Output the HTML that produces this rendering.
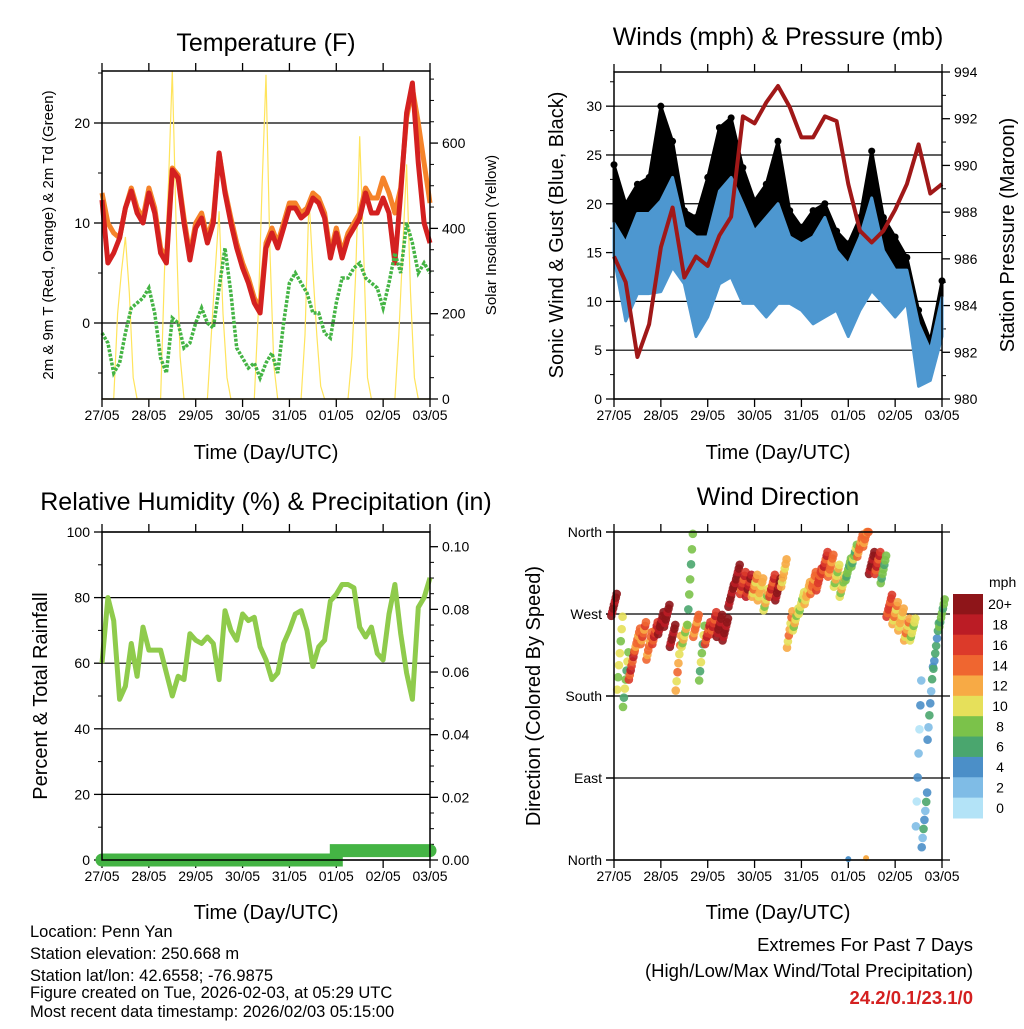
<!DOCTYPE html>
<html><head><meta charset="utf-8"><style>
html,body{margin:0;padding:0;background:#fff;}
svg text{font-family:"Liberation Sans",Arial,sans-serif;fill:#000;}
</style></head><body>
<svg id="chart" width="1024" height="1024" viewBox="0 0 1024 1024" xmlns="http://www.w3.org/2000/svg">
<rect width="1024" height="1024" fill="#fff"/>
<text x="266" y="51" font-size="25" text-anchor="middle">Temperature (F)</text>
<text x="778" y="45" font-size="25" text-anchor="middle">Winds (mph) &amp; Pressure (mb)</text>
<text x="266" y="510" font-size="25" text-anchor="middle">Relative Humidity (%) &amp; Precipitation (in)</text>
<text x="778" y="505" font-size="25" text-anchor="middle">Wind Direction</text>
<text x="266" y="459" font-size="20" text-anchor="middle">Time (Day/UTC)</text>
<text x="778" y="459" font-size="20" text-anchor="middle">Time (Day/UTC)</text>
<text x="266" y="919" font-size="20" text-anchor="middle">Time (Day/UTC)</text>
<text x="778" y="919" font-size="20" text-anchor="middle">Time (Day/UTC)</text>
<text transform="translate(53,235) rotate(-90)" font-size="15" text-anchor="middle">2m &amp; 9m T (Red, Orange) &amp; 2m Td (Green)</text>
<text transform="translate(496,235) rotate(-90)" font-size="15" text-anchor="middle">Solar Insolation (Yellow)</text>
<text transform="translate(563,235) rotate(-90)" font-size="20" text-anchor="middle">Sonic Wind &amp; Gust (Blue, Black)</text>
<text transform="translate(1014,235) rotate(-90)" font-size="20" text-anchor="middle">Station Pressure (Maroon)</text>
<text transform="translate(47,696) rotate(-90)" font-size="20" text-anchor="middle">Percent &amp; Total Rainfall</text>
<text transform="translate(540,696) rotate(-90)" font-size="20" text-anchor="middle">Direction (Colored By Speed)</text>
<g font-size="16.5">
<text x="30" y="937">Location: Penn Yan</text>
<text x="30" y="959">Station elevation: 250.668 m</text>
<text x="30" y="981">Station lat/lon: 42.6558; -76.9875</text>
<text x="30" y="998">Figure created on Tue, 2026-02-03, at 05:29 UTC</text>
<text x="30" y="1017">Most recent data timestamp: 2026/02/03 05:15:00</text>
</g>
<g font-size="18.5" text-anchor="end">
<text x="973" y="951">Extremes For Past 7 Days</text>
<text x="973" y="977">(High/Low/Max Wind/Total Precipitation)</text>
<text x="973" y="1004" font-weight="bold" style="fill:#d42020">24.2/0.1/23.1/0</text>
</g>
</svg>
<script>
// ---- data ----
const dayLabels = ["27/05","28/05","29/05","30/05","31/05","01/05","02/05","03/05"];
const tempRed = [12.3,6,7,8.5,11.5,13.2,11,10,13,11,7,6,15.3,14.5,10,6.3,9.5,10.5,8,10,17,13,10,7.5,5.5,4,2,1,7.5,9,7.5,9.5,11.5,11.5,10.5,11,12.5,12,10.5,6.5,9,6.5,8.5,9.5,10.5,13,11,11,12.5,11,6,13,21,24,16,10,8];
const tempOrange = [13,10,9,8.5,11.5,13.5,11.5,10.5,13.5,11.5,7.5,6.5,15.5,14.8,10.5,6.8,10,11,8.5,10.5,17,13.3,10.5,8,6,4.5,2.5,1.5,8,9.5,8,10,12,12,11,11.5,13,12.5,11,7,9.5,7,9,10,11,13.5,12.5,12.5,14.5,13,11,13.5,20.5,23.5,20,16,12];
const tempTd = [-1,-2,-5,-4,-1,1.5,2,2.5,3.5,1,-3.5,-5,0.5,0,-2.5,-2,0,1.5,0,-0.5,3.5,7.5,3,-2.5,-3.5,-4.5,-4,-5.5,-4,-3,-5,0,4,5,4,3,1,1,-1,-1.5,2,4.5,4.5,5.5,6,4.5,4,3.5,1.5,4,7,5,10,8,5,6,5];
const solar = [0,0,0,0,200,300,380,250,50,0,0,0, 0,0,0,0,300,500,770,400,100,0,0,0, 0,0,0,0,150,300,440,200,50,0,0,0, 0,0,0,0,200,500,760,350,80,0,0,0, 0,0,0,0,150,470,300,150,30,0,0,0, 0,0,0,0,100,300,616,350,50,0,0,0, 0,0,0,0,150,350,550,250,50,0,0,0, 0];
const windLo = [14.5,8,10.8,10.8,11,13.5,11.8,6.4,8.4,11.8,12.5,9.8,9.8,8.4,9.8,9.8,9.1,7.7,8.4,9.1,6.4,9.1,11.1,9.8,8.4,9.8,1.3,1.9,6.4];
const windHi = [18,16,19,19,20.3,22.7,17.6,16.6,16.6,21.3,22.7,20,17.2,18.6,20,16.6,15.9,16.6,18.6,15.2,13.8,16.6,20.6,15.2,13.2,13.2,7.7,5,10.4];
const gust = [24,20,22,22.7,30,26.4,19.3,18.6,22.7,27.8,28.8,23.7,20.3,22,26.4,19.3,17.6,19.3,20,17.2,15.9,18.6,25.4,18.6,16.6,14.5,9.1,6,12.1];
const pressure = [986.1,985,981.8,983.2,986.5,988.2,985.2,986.1,985.7,987,987.8,992.1,991.8,992.7,993.4,992.5,991.2,991.2,992.1,991.9,989.2,987.2,986.7,987.2,988.1,989.2,990.9,988.8,989.2];
const rh = [60,80,73,49,53,66,56,71,64,64,64,57,50,56,55,69,67,66,68,66,55,76,70,67,75,73,74,65,61,55,57,66,70,75,76,70,59,65,67,79,81,84,84,83,71,68,71,63,61,75,84,69,57,49,77,80,86];
const precipT = [0,5.0,5.0,7];
const precipV = [0,0,0.003,0.003];
const dirVals = [280,227,198,213,242,249,235,249,260,268,246,216,246,308,257,227,249,260,257,253,290,312,304,301,301,297,286,301,297,315,253,264,282,293,304,308,326,323,312,301,319,334,345,356,326,326,319,279,271,264,253,253,117,44,172,235,271];
const dirSpeed = [21,10,9,17,14,15,14,17,21,21,21,13,11,8,14,9,17,17,21,21,21,21,17,19,13,12,11,17,21,12,13,11,10,12,14,16,17,14,11,11,8,9,14,14,21,17,8,16,13,12,13,10,3,5,5,6,8];
const dirSpread = [12,40,30,15,12,12,15,12,12,12, 12,30,12,50,12,30,12,12,12,12, 12,12,12,12,12,12,12,12,12,15, 20,12,12,12,12,12,12,12,12,12, 12,12,12,12,12,12,15,12,12,12, 12,12,80,30,40,25,15];
const outlierT = [5.0,5.38];
const outlierDir = [1,2];
const outlierSpeed = [5,13];
const speedLabels = ["20+","18","16","14","12","10","8","6","4","2","0"];
const speedColors = ["#8e1519","#bb1c25","#dc3a2a","#ef6630","#f7aa45","#e6e05a","#7bc24a","#4aa66e","#4b8fc8","#7fbce6","#b3e3f7"];

const NS="http://www.w3.org/2000/svg";
const svg=document.getElementById('chart');
function mk(tag,attrs,parent){const e=document.createElementNS(NS,tag);for(const k in attrs)e.setAttribute(k,attrs[k]);(parent||svg).appendChild(e);return e;}
function txt(s,attrs,parent){const e=mk('text',attrs,parent);e.textContent=s;return e;}
function scale(d0,d1,r0,r1){return v=>r0+(v-d0)/(d1-d0)*(r1-r0);}

function frame(name,x0,x1,y0,y1,xlabelY){
  const g=mk('g',{});
  
  
  const X=scale(0,7,x0,x1);
  for(let i=0;i<8;i++){
    const x=X(i);
    mk('line',{x1:x,y1:y1,x2:x,y2:y1+8,stroke:'#000','stroke-width':1.3},g);
    mk('line',{x1:x,y1:y0,x2:x,y2:y0-8,stroke:'#000','stroke-width':1.3},g);
    const t=txt(dayLabels[i],{x:x,y:xlabelY,'font-size':14,'text-anchor':'middle'},g);
    
    
  }
  return {g,X};
}
function box(x0,x1,y0,y1){const r=mk('rect',{x:x0,y:y0,width:x1-x0,height:y1-y0,fill:'none',stroke:'#000','stroke-width':1.5});}
function yAxis(g,vals,Y,x,side,labelFn,grid,gx0,gx1,len){
  vals.forEach(v=>{const y=Y(v);
    mk('line',{x1:x,y1:y,x2:x+(side<0?-len:len),y2:y,stroke:'#000','stroke-width':1.3},g);
    if(grid) mk('line',{x1:gx0,y1:y,x2:gx1,y2:y,stroke:'#000','stroke-width':1.2},g);
    if(labelFn){const t=txt(labelFn(v),{x:x+(side<0?-12:12),y:y+5,'font-size':14,'text-anchor':side<0?'end':'start'},g);
      }
  });
}
function minor(g,vals,Y,x,side){vals.forEach(v=>{const y=Y(v);mk('line',{x1:x,y1:y,x2:x+(side<0?-4:4),y2:y,stroke:'#000','stroke-width':1},g);});}
function pathOf(ts,vs,X,Y){return ts.map((t,i)=>(i?'L':'M')+X(t).toFixed(1)+','+Y(vs[i]).toFixed(1)).join('');}
const t8=tempRed.map((_,i)=>i*0.125);

// ---- Panel 1: temperature ----
(function(){
  const x0=102,x1=430,y0=71,y1=399;
  const {g,X}=frame('temperature',x0,x1,y0,y1,420);
  const Y=scale(-7.6,25.2,y1,y0), Ys=scale(0,769,y1,y0);
  yAxis(g,[0,10,20],Y,x0,-1,v=>String(v),true,x0,x1,8);
  minor(g,[-5,5,15,25],Y,x0,-1);
  yAxis(g,[0,200,400,600],Ys,x1,1,v=>String(v),false,0,0,8);
  minor(g,[50,100,150,250,300,350,450,500,550,650,700,750],Ys,x1,1);
  const ts=solar.map((_,i)=>i/12);
  const s=mk('path',{d:pathOf(ts,solar,X,Ys),fill:'none',stroke:'#ffe45c','stroke-width':1.2});
  
  const o=mk('path',{d:pathOf(t8,tempOrange,X,Y),fill:'none',stroke:'#f5832a','stroke-width':5,'stroke-linejoin':'round'});
  
  const r=mk('path',{d:pathOf(t8,tempRed,X,Y),fill:'none',stroke:'#d42020','stroke-width':5,'stroke-linejoin':'round'});
  
  const d=mk('path',{d:pathOf(t8,tempTd,X,Y),fill:'none',stroke:'#44b444','stroke-width':3.5,'stroke-dasharray':'3 1.5'});
  
  box(x0,x1,y0,y1);
})();

// ---- Panel 2: winds & pressure ----
(function(){
  const x0=614,x1=942,y0=72,y1=399;
  const {g,X}=frame('winds',x0,x1,y0,y1,420);
  const Y=scale(0,33.5,y1,y0), Yp=scale(980,994,y1,y0);
  yAxis(g,[0,5,10,15,20,25,30],Y,x0,-1,v=>String(v),true,x0,x1,8);
  minor(g,[2.5,7.5,12.5,17.5,22.5,27.5,32.5],Y,x0,-1);
  yAxis(g,[980,982,984,986,988,990,992,994],Yp,x1,1,v=>String(v),false,0,0,8);
  minor(g,[981,983,985,987,989,991,993],Yp,x1,1);
  const tw=windLo.map((_,i)=>i*0.25);
  const gd=tw.map((t,i)=>'L'+X(t)+','+Y(gust[i])).join('').replace(/^L/,'M')+tw.slice().reverse().map((t,j)=>{const i=tw.length-1-j;return 'L'+X(t)+','+Y(windHi[i]-2);}).join('')+'Z';
  const ga=mk('path',{d:gd,fill:'#000',stroke:'#000','stroke-width':3,'stroke-linejoin':'round'});
  
  tw.forEach((t,i)=>{const c=mk('circle',{cx:X(t),cy:Y(gust[i]),r:3.5,fill:'#000'});
    });
  const bd=tw.map((t,i)=>'L'+X(t)+','+Y(windHi[i])).join('').replace(/^L/,'M')+tw.slice().reverse().map((t,j)=>{const i=tw.length-1-j;return 'L'+X(t)+','+Y(windLo[i]);}).join('')+'Z';
  const ba=mk('path',{d:bd,fill:'#4d97d0',stroke:'#4d97d0','stroke-width':3,'stroke-linejoin':'round'});
  
  const p=mk('path',{d:pathOf(tw,pressure,X,Yp),fill:'none',stroke:'#a01818','stroke-width':4,'stroke-linejoin':'round'});
  
  box(x0,x1,y0,y1);
})();

// ---- Panel 3: RH & precip ----
(function(){
  const x0=102,x1=430,y0=532,y1=860;
  const {g,X}=frame('humidity',x0,x1,y0,y1,881);
  const Y=scale(0,100,y1,y0), Yr=scale(0,0.1,y1,546.7);
  yAxis(g,[0,20,40,60,80,100],Y,x0,-1,v=>String(v),true,x0,x1,8);
  minor(g,[10,30,50,70,90],Y,x0,-1);
  yAxis(g,[0,0.02,0.04,0.06,0.08,0.1],Yr,x1,1,v=>v.toFixed(2),false,0,0,8);
  minor(g,[0.005,0.01,0.015,0.025,0.03,0.035,0.045,0.05,0.055,0.065,0.07,0.075,0.085,0.09,0.095],Yr,x1,1);
  const l=mk('path',{d:pathOf(t8,rh,X,Y),fill:'none',stroke:'#8fcb4c','stroke-width':5,'stroke-linejoin':'round'});
  
  const pr=mk('path',{d:pathOf(precipT,precipV,X,Yr),fill:'none',stroke:'#44b444','stroke-width':13,'stroke-linecap':'round'});
  
  box(x0,x1,y0,y1);
})();

// ---- Panel 4: wind direction ----
(function(){
  const x0=614,x1=942,y0=532,y1=860;
  const {g,X}=frame('wind-direction',x0,x1,y0,y1,881);
  const Y=scale(0,360,y1,y0);
  const names=['North','East','South','West','North'];
  yAxis(g,[0,90,180,270,360],Y,x0,-1,v=>names[v/90],true,606,950,8);
  function col(s){const k=Math.max(0,Math.min(10,Math.floor(s/2)));return speedColors[10-k];}
  const fr=[-1,-0.66,-0.33,0,0.33,0.66,1];
  dirVals.forEach((d,i)=>{
    const t=i*0.125, sp=dirSpread[i];
    fr.forEach((f,j)=>{
      const c=mk('circle',{cx:X(t)+(j-3)*0.9,cy:Y(Math.max(0,Math.min(360,d+f*sp))),r:4.3,fill:col(dirSpeed[i]+(j%3===1?-2:(j%3===2?1:0))),'fill-opacity':0.9});
      
      
    });
  });
  outlierT.forEach((t,i)=>{const c=mk('circle',{cx:X(t),cy:Y(outlierDir[i]),r:3,fill:col(outlierSpeed[i])});
    });
  box(x0,x1,y0,y1);
  const cb=mk('g',{});
  
  
  txt('mph',{x:989,y:587,'font-size':14},cb);
  const h=224/11;
  speedColors.forEach((c,i)=>{
    const r=mk('rect',{x:953,y:594+i*h,width:30,height:h+0.5,fill:c},cb);
    
    const t=txt(speedLabels[i],{x:1000,y:594+i*h+h/2+5,'font-size':14,'text-anchor':'middle'},cb);
    
  });
})();
</script>
</body></html>
